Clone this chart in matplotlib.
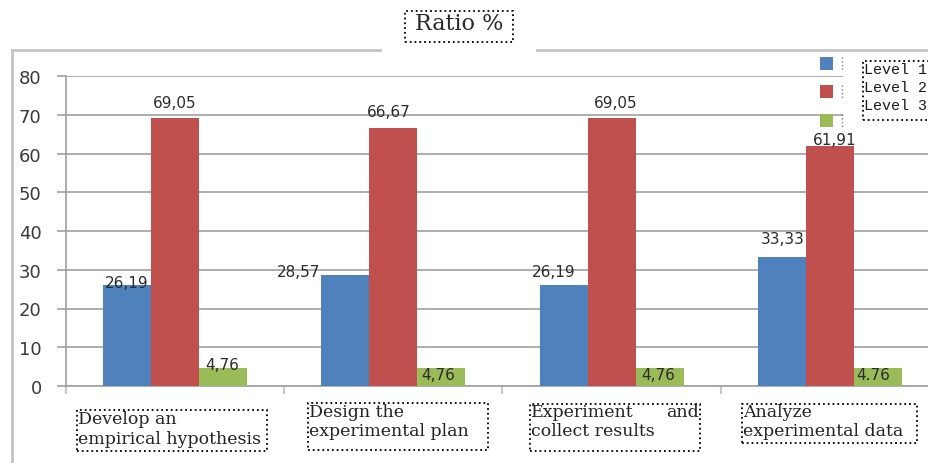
import matplotlib.pyplot as plt
from matplotlib.patches import Rectangle
from matplotlib.lines import Line2D
import numpy as np

W, H = 929, 464

# data
categories = [["Develop an", "empirical hypothesis"],
              ["Design the", "experimental plan"],
              ["Experiment and", "collect results"],
              ["Analyze", "experimental data"]]
justify_first = [False, False, True, False]
series_names = ["Level 1", "Level 2", "Level 3"]
level1 = [26.19, 28.57, 26.19, 33.33]
level2 = [69.05, 66.67, 69.05, 61.91]
level3 = [4.76, 4.76, 4.76, 4.76]
level3_text = ["4,76", "4,76", "4,76", "4.76"]
yticks = [0, 10, 20, 30, 40, 50, 60, 70, 80]
title = "Ratio %"

colors = ["#4F81BD", "#C0504D", "#9BBB59"]
grey = "#a0a0a0"


def fx(px):
    return px / W


def fy(py):
    return 1 - py / H


fig = plt.figure(figsize=(W / 100, H / 100), dpi=100)
fig.patch.set_facecolor("white")

# plot area: x from 66px, 0 at 387px, 80 at 77px
ax = fig.add_axes([fx(66), fy(387), (939 - 66) / W, (387 - 77) / H])
ax.set_xlim(-0.5, 3.5)
ax.set_ylim(0, 80)

x = np.arange(len(categories))
bw = 0.22
series = [level1, level2, level3]
for i, vals in enumerate(series):
    ax.bar(x + (i - 1) * bw, vals, bw, color=colors[i], zorder=3)

# value labels, nudged in pixels from the bar tops
nudges = [[(0, 2), (-47, 4), (-10, 13), (1, 18)],
          [(0, 16), (-5, 16), (4, 16), (5, 7)],
          [(-1, 3), (-3, -7), (-1, -7), (-5, -7)]]
for i, vals in enumerate(series):
    for j, v in enumerate(vals):
        if i == 2:
            txt = level3_text[j]
        else:
            txt = f"{v:.2f}".replace(".", ",")
        dx, dy = nudges[i][j]
        ax.annotate(txt, (x[j] + (i - 1) * bw, v), xytext=(dx, dy),
                    textcoords="offset pixels", ha="center", va="center",
                    fontsize=11, color="#2b2b2b", zorder=5)

ax.set_yticks(yticks)
ax.tick_params(axis="y", length=6.5, width=1.2, color=grey, pad=11,
               labelsize=13, labelcolor="#3a3a3a")
ax.set_xticks([])
ax.set_xticks(np.arange(-0.5, 3.5, 1.0), minor=True)
ax.tick_params(axis="x", which="minor", length=6, width=1.5, color="#c8c8c8")
ax.grid(axis="y", color=grey, lw=1.2, zorder=0)
for s in ["top", "right"]:
    ax.spines[s].set_visible(False)
for s in ["left", "bottom"]:
    ax.spines[s].set_color(grey)
    ax.spines[s].set_linewidth(1.2)

# outer frame
frame_c = "#c4c4c4"
fig.add_artist(Line2D([fx(12), fx(12)], [fy(51), fy(464)], color=frame_c, lw=2))
fig.add_artist(Line2D([fx(12), fx(380)], [fy(51), fy(51)], color=frame_c, lw=2))
fig.add_artist(Line2D([fx(537), fx(929)], [fy(51), fy(51)], color=frame_c, lw=2))


def dotted_box(x0, y0, x1, y1, fc="none"):
    fig.add_artist(Rectangle((fx(x0), fy(y1)), fx(x1 - x0), (y1 - y0) / H,
                             transform=fig.transFigure, fill=fc != "none",
                             facecolor=fc, edgecolor="black", ls=":", lw=1.3,
                             zorder=10))


# title
dotted_box(405, 12, 513, 43)
fig.text(fx(459), fy(24), title, ha="center", va="center",
         family="DejaVu Serif", fontsize=16, color="#2a2a2a")

# category labels in dotted boxes
cat_font = dict(family="DejaVu Serif", fontsize=12.5, color="#222222")
boxes = [(77, 411, 267, 452), (308, 404, 488, 451),
         (530, 405, 700, 452), (742, 405, 917, 444)]
line_y = [(420, 440), (413, 432), (413, 432), (413, 432)]
for k, lines in enumerate(categories):
    x0, y0, x1, y1 = boxes[k]
    dotted_box(x0, y0, x1, y1)
    for n, line in enumerate(lines):
        yy = fy(line_y[k][n])
        if n == 0 and justify_first[k]:
            words = line.split()
            fig.text(fx(x0 + 1), yy, words[0], ha="left", va="center", **cat_font)
            fig.text(fx(x1 - 1), yy, words[-1], ha="right", va="center", **cat_font)
        else:
            fig.text(fx(x0 + 1), yy, line, ha="left", va="center", **cat_font)

# legend
fig.add_artist(Rectangle((fx(843), fy(130)), fx(929 - 843), 75 / H,
                         transform=fig.transFigure, facecolor="white",
                         edgecolor="none", zorder=8))
sq_y = [65, 93, 122]
for i, c in enumerate(colors):
    fig.add_artist(Rectangle((fx(820), fy(sq_y[i] + 6)), fx(13), 13 / H,
                             transform=fig.transFigure, facecolor=c,
                             edgecolor="none", zorder=9))
    fig.add_artist(Line2D([fx(842), fx(842)], [fy(sq_y[i] - 7), fy(sq_y[i] + 7)],
                          color="#808080", lw=1, ls=":", zorder=9))
dotted_box(863, 62, 935, 121)
text_y = [70, 88, 106]
for i, name in enumerate(series_names):
    fig.text(fx(864), fy(text_y[i]), name, ha="left", va="center",
             family="Liberation Mono", fontsize=10.8, color="#1a1a1a", zorder=11)

fig.savefig("out.png", dpi=100)
